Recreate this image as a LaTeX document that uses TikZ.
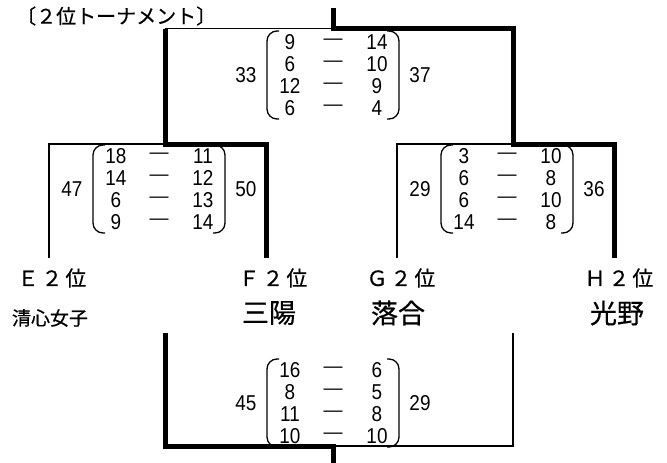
\documentclass[tikz,border=0pt]{standalone}
\usepackage{fontspec}
\setmainfont{Liberation Sans}
\newfontfamily\jpfont[FakeBold=0.5]{Noto Sans CJK JP}
\newfontfamily\rankfont[LetterSpace=14, FakeBold=0.5]{Noto Sans CJK JP}
\newfontfamily\numfont[FakeStretch=0.88]{Liberation Sans}

\begin{document}
\begin{tikzpicture}[x=1pt, y=-1pt,
  thinline/.style={line width=1.4pt},
  thickline/.style={line width=5pt},
  paren/.style={line width=1.3pt, rounded corners=10pt},
  score/.style={inner sep=0pt, font=\numfont\fontsize{21.5}{21.5}\selectfont},
  dashmark/.style={inner sep=0pt, font=\fontsize{19}{19}\selectfont},
  rank/.style={inner sep=0pt, font=\rankfont\fontsize{21}{21}\selectfont},
  school/.style={inner sep=0pt, font=\jpfont\fontsize{27}{27}\selectfont},
  smallschool/.style={inner sep=0pt, font=\jpfont\fontsize{19}{19}\selectfont}]
  \useasboundingbox (0,0) rectangle (667,463);
  % Title
  \node[inner sep=0pt, anchor=west, font=\jpfont\fontsize{20}{20}\selectfont] (title) at (16,16) {〔２位トーナメント〕};
  % Team ends and junctions
  \coordinate (E) at (49,258);
  \coordinate (F) at (266,258);
  \coordinate (G) at (397,258);
  \coordinate (H) at (614,258);
  \coordinate (EF) at (165,144);
  \coordinate (GH) at (513,144);
  \coordinate (final) at (333,28.5);
  \coordinate (finaltop) at (333,8);
  \coordinate (thirdL) at (165,333);
  \coordinate (thirdR) at (513,333);
  \coordinate (third) at (333,446);
  \coordinate (thirdbot) at (333,463);
  % Losing sides (thin)
  \draw[thinline] (E) |- (EF);
  \draw[thinline] (G) |- (GH);
  \draw[thinline] (EF |- final) -- (final);
  \draw[thinline] (thirdR) |- (third);
  % Winning sides (thick)
  \draw[thickline] (F) |- (EF) -- (EF |- final);
  \draw[thickline] (H) |- (GH) |- (final) -- (finaltop);
  \draw[thickline] (thirdL) |- (third) -- (thirdbot);
  % Score blocks: name / centre x / centre y / left total / right total / games
  \foreach \bk/\bx/\by/\lt/\rt/\games in {
      top/333/75/33/37/{9/14,6/10,12/9,6/4},
      left/159/189/47/50/{18/11,14/12,6/13,9/14},
      right/507/189/29/36/{3/10,6/8,6/10,14/8},
      bottom/333/403/45/29/{16/6,8/5,11/8,10/10}}
  {
    \foreach \l/\r [count=\i] in \games {
      \node[score] (\bk-l\i) at (\bx-43, \by-55+22*\i) {\l};
      \node[dashmark] (\bk-d\i) at (\bx, \by-55+22*\i) {—};
      \node[score] (\bk-r\i) at (\bx+44, \by-55+22*\i) {\r};
    }
    \node[score] (\bk-lt) at (\bx-87, \by) {\lt};
    \node[score] (\bk-rt) at (\bx+87, \by) {\rt};
    \draw[paren] (\bx-54,\by-44) -- (\bx-66,\by-44) -- (\bx-66,\by+44) -- (\bx-54,\by+44);
    \draw[paren] (\bx+54,\by-44) -- (\bx+66,\by-44) -- (\bx+66,\by+44) -- (\bx+54,\by+44);
  }
  % Team labels
  \node[rank] (E-rank) at (52,278) {Ｅ２位};
  \node[rank] (F-rank) at (273,278) {Ｆ２位};
  \node[rank] (G-rank) at (401,278) {Ｇ２位};
  \node[rank] (H-rank) at (619,278) {Ｈ２位};
  \node[smallschool] (E-name) at (50,318) {清心女子};
  \node[school] (F-name) at (269,313) {三陽};
  \node[school] (G-name) at (398,313) {落合};
  \node[school] (H-name) at (617,313) {光野};
\end{tikzpicture}
\end{document}
